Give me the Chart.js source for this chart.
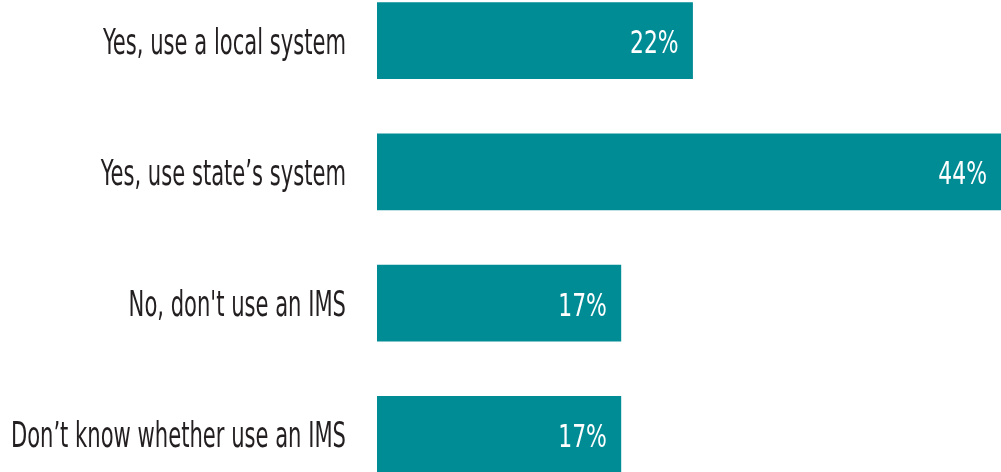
<!DOCTYPE html>
<html>
<head>
<meta charset="utf-8">
<script src="https://cdn.jsdelivr.net/npm/chart.js@4"></script>
<style>
  html, body { margin: 0; padding: 0; background: #fff; overflow: hidden; }
  #chart { position: absolute; left: 0; top: -25px; }
</style>
</head>
<body>
<canvas id="chart" width="1001" height="525"></canvas>
<script>
// ─── Data ────────────────────────────────────────────────────────────────────
const categories = [
  'Yes, use a local system',
  'Yes, use state\u2019s system',
  'No, don\'t use an IMS',
  'Don\u2019t know whether use an IMS'
];
const shares = [22, 44, 17, 17];

const BAR_COLOR = '#008c95';
const FONT = '"DejaVu Sans Condensed", "Liberation Sans Narrow", sans-serif';

// right-aligned text, squeezed horizontally to get a narrow face
function squeezedText(ctx, text, x, y, size, color, squeeze) {
  ctx.save();
  ctx.font = `${size}px ${FONT}`;
  ctx.fillStyle = color;
  ctx.textAlign = 'right';
  ctx.textBaseline = 'alphabetic';
  ctx.translate(x, y);
  ctx.scale(squeeze, 1);
  ctx.fillText(text, 0, 0);
  ctx.restore();
}

// ─── Category labels + value labels ──────────────────────────────────────────
Chart.register({
  id: 'barText',
  afterDatasetsDraw(chart) {
    const { ctx, chartArea } = chart;
    const yScale = chart.scales.y;
    categories.forEach((c, i) => {
      const y = yScale.getPixelForTick(i);
      squeezedText(ctx, c, chartArea.left - 31, y + 13, 35, '#231f20', 0.67);
    });
    chart.getDatasetMeta(0).data.forEach((bar, i) => {
      const right = Math.min(bar.x, chartArea.right);
      squeezedText(ctx, `${shares[i]}%`, right - 14, bar.y + 12.5, 32, '#ffffff', 0.76);
    });
  }
});

new Chart(document.getElementById('chart'), {
  type: 'bar',
  data: {
    labels: categories,
    datasets: [{ data: shares, backgroundColor: BAR_COLOR, borderWidth: 0,
      barThickness: 76 }]
  },
  options: {
    indexAxis: 'y', responsive: false, animation: false,
    layout: { padding: 0 },
    plugins: { legend: { display: false }, tooltip: { enabled: false } },
    scales: {
      x: { min: 0, max: 43.5, display: false },
      y: {
        grid: { display: false, drawTicks: false }, border: { display: false },
        ticks: { display: false },
        afterFit(scale) { scale.width = 377; }
      }
    }
  }
});
</script>
</body>
</html>
